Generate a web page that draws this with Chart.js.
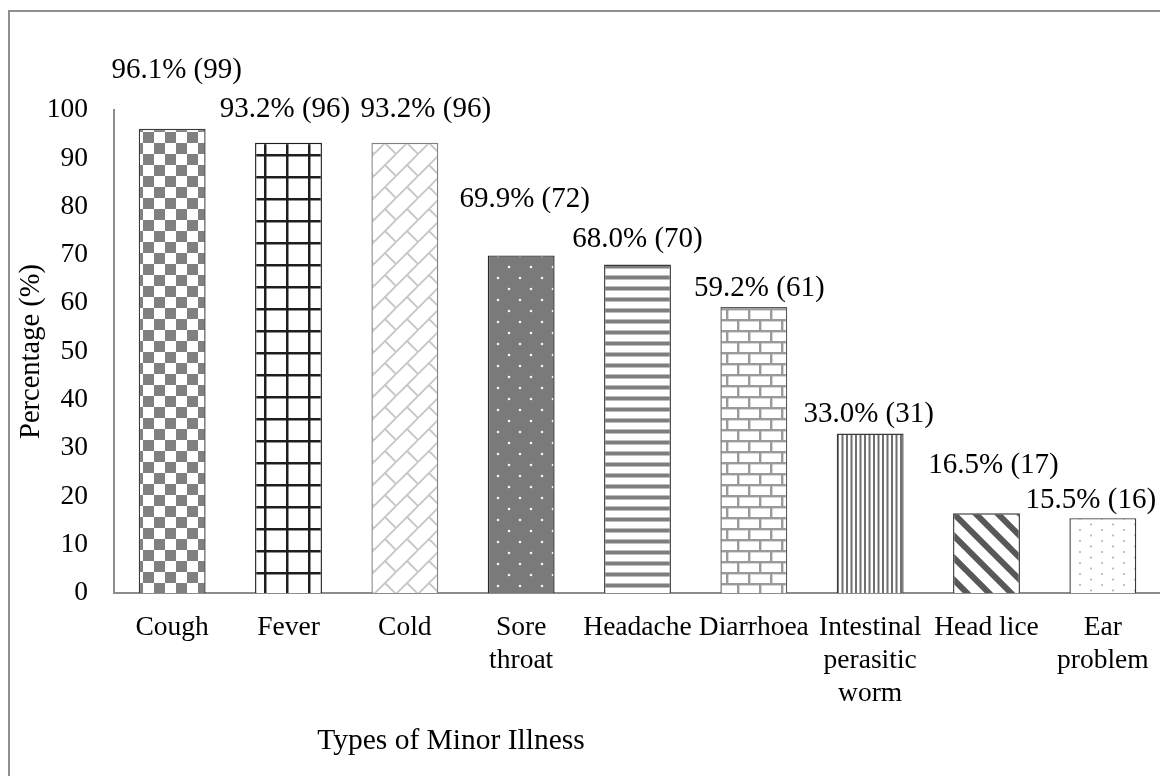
<!DOCTYPE html>
<html>
<head>
<meta charset="utf-8">
<script src="https://cdn.jsdelivr.net/npm/chart.js@4/dist/chart.umd.min.js"></script>
<style>
  html, body { margin: 0; padding: 0; background: #fff; overflow: hidden; width: 1160px; height: 776px; }
  #frame { position: absolute; left: 8px; top: 10px; width: 1400px; height: 1000px; border: 2px solid #8f8f8f; box-sizing: border-box; }
  #chart { position: absolute; left: 0; top: 0; }
</style>
</head>
<body>
<div id="frame"></div>
<canvas id="chart" width="1200" height="776"></canvas>
<script>
// Minor illnesses reported, percentage of respondents and counts
const illnesses = ['Cough', 'Fever', 'Cold', ['Sore', 'throat'], 'Headache', 'Diarrhoea',
                   ['Intestinal', 'perasitic', 'worm'], 'Head lice', ['Ear', 'problem']];
const percentages = [96.1, 93.2, 93.2, 69.9, 68.0, 59.2, 33.0, 16.5, 15.5];
const counts = [99, 96, 96, 72, 70, 61, 31, 17, 16];
const yAxisMin = 0;
const yAxisMax = 100;
const yAxisStep = 10;

const FONT = "'Liberation Serif', 'Times New Roman', serif";
const TICK_SIZE = 27.5;
const LABEL_SIZE = 29;
const TITLE_SIZE = 29.5;

// ---- fill patterns for each bar ----
function tile(w, h, draw) {
  const c = document.createElement('canvas');
  c.width = w; c.height = h;
  const g = c.getContext('2d');
  g.fillStyle = '#fff';
  g.fillRect(0, 0, w, h);
  draw(g, w, h);
  return g.createPattern(c, 'repeat');
}
const T = 22, H = 11;
const patterns = [
  // checkerboard
  tile(T, T, g => { g.fillStyle = '#808080'; g.fillRect(H, 0, H, H); g.fillRect(0, H, H, H); }),
  // square grid
  tile(T, T, g => { g.fillStyle = '#1e1e1e'; g.fillRect(0, 0, 2.5, T); g.fillRect(0, 0, T, 2.5); }),
  // diagonal brick
  tile(T, T, g => {
    g.strokeStyle = '#c6c6c6'; g.lineWidth = 1.8;
    g.beginPath();
    g.moveTo(-1, T + 1); g.lineTo(T + 1, -1);
    g.moveTo(H, H); g.lineTo(T + 1, T + 1);
    g.moveTo(-1, -1); g.lineTo(0.5, 0.5);
    g.stroke();
  }),
  // white dots on grey
  tile(T, T, g => {
    g.fillStyle = '#7a7a7a'; g.fillRect(0, 0, T, T);
    g.fillStyle = '#f4f4f4';
    g.beginPath(); g.arc(3, 3, 1.3, 0, Math.PI * 2); g.fill();
    g.beginPath(); g.arc(14, 14, 1.3, 0, Math.PI * 2); g.fill();
  }),
  // horizontal stripes
  tile(H, H, g => { g.fillStyle = '#bdbdbd'; g.fillRect(0, 0, H, 5); g.fillStyle = '#7e7e7e'; g.fillRect(0, 1, H, 3); }),
  // horizontal brick
  tile(T, T, g => {
    g.fillStyle = '#9a9a9a';
    g.fillRect(0, 0, T, 2.4); g.fillRect(0, H, T, 2.4);
    g.fillRect(0, 0, 2.4, H); g.fillRect(H, H, 2.4, H);
  }),
  // narrow vertical stripes
  tile(9, 9, g => { g.fillStyle = '#707070'; g.fillRect(0, 0, 2, 9); g.fillRect(4.5, 0, 2, 9); }),
  // wide downward diagonal
  tile(T, T, g => {
    g.strokeStyle = '#585858'; g.lineWidth = 6;
    g.beginPath();
    for (let k = -1; k <= 1; k++) { g.moveTo(k * T - 2, -2); g.lineTo(k * T + T + 2, T + 2); }
    g.stroke();
  }),
  // sparse light dots
  tile(T, T, g => {
    g.fillStyle = '#b4b4b4';
    [[2, 2], [13, 7.5], [2, 13], [13, 18.5]].forEach(([x, y]) => { g.beginPath(); g.arc(x, y, 1.1, 0, Math.PI * 2); g.fill(); });
  })
];
const edgeColours = ['#3a3a3a', '#1e1e1e', '#808080', '#2a2a2a', '#3a3a3a', '#5a5a5a', '#3a3a3a', '#3a3a3a', '#3a3a3a'];

// label placement relative to the top centre of each bar
const labelShift = [[4.5, -58], [-3.5, -33], [21, -33], [3.5, -56], [0, -25], [5.5, -19], [-1.5, -19], [7, -48], [-12, -18]];

const valueLabels = {
  id: 'valueLabels',
  afterDatasetsDraw(chart) {
    const ctx = chart.ctx;
    const meta = chart.getDatasetMeta(0);
    ctx.save();
    ctx.font = LABEL_SIZE + 'px ' + FONT;
    ctx.fillStyle = '#000';
    ctx.textAlign = 'center';
    ctx.textBaseline = 'middle';
    meta.data.forEach((bar, i) => {
      const txt = percentages[i].toFixed(1) + '% (' + counts[i] + ')';
      ctx.fillText(txt, bar.x + labelShift[i][0], bar.y + labelShift[i][1]);
    });
    ctx.restore();
  }
};

const xAxisTitle = {
  id: 'xAxisTitle',
  afterDraw(chart) {
    const ctx = chart.ctx;
    const a = chart.chartArea;
    ctx.save();
    ctx.font = TITLE_SIZE + 'px ' + FONT;
    ctx.fillStyle = '#000';
    ctx.textAlign = 'center';
    ctx.textBaseline = 'middle';
    ctx.fillText('Types of Minor Illness', a.left + 337, a.bottom + 148);
    ctx.restore();
  }
};

new Chart(document.getElementById('chart'), {
  type: 'bar',
  data: {
    labels: illnesses,
    datasets: [{
      data: percentages,
      backgroundColor: patterns,
      borderColor: edgeColours,
      borderWidth: 1.4,
      barPercentage: 0.575,
      categoryPercentage: 1
    }]
  },
  options: {
    responsive: false,
    animation: false,
    devicePixelRatio: 1,
    layout: { padding: { top: 110, right: 39, bottom: 0, left: 0 } },
    plugins: { legend: { display: false }, tooltip: { enabled: false } },
    scales: {
      x: {
        grid: { display: false, drawTicks: false },
        border: { display: true, color: '#8c8c8c', width: 2 },
        ticks: { color: '#000', font: { family: FONT, size: TICK_SIZE }, padding: 18, maxRotation: 0, autoSkip: false },
        afterFit(scale) { scale.height = 776 - 593; }
      },
      y: {
        min: yAxisMin,
        max: yAxisMax,
        grid: { display: false, drawTicks: false },
        border: { display: true, color: '#8c8c8c', width: 2 },
        ticks: { stepSize: yAxisStep, color: '#000', font: { family: FONT, size: TICK_SIZE }, padding: 26 },
        title: { display: true, text: 'Percentage (%)', color: '#000', font: { family: FONT, size: 28.5 }, padding: { top: 14, bottom: 0 } },
        afterFit(scale) { scale.width = 114; }
      }
    }
  },
  plugins: [valueLabels, xAxisTitle]
});
</script>
</body>
</html>
